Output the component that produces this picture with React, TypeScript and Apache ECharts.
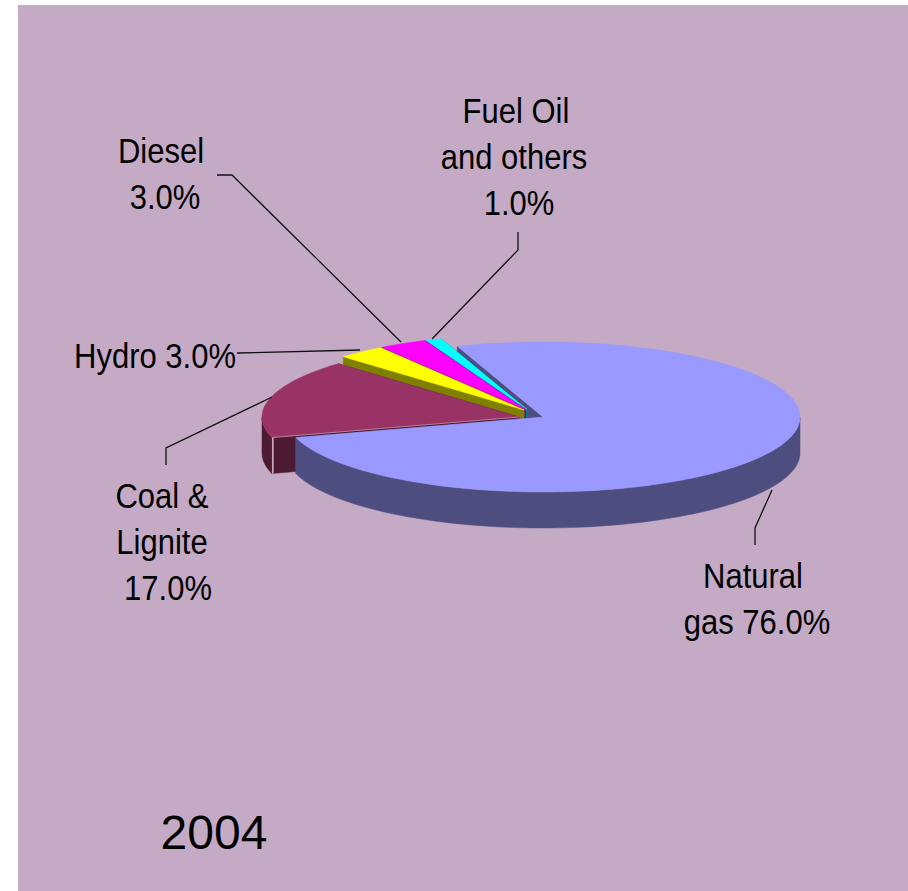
import React, { useEffect, useRef } from "react";
import * as echarts from "echarts";

const categories = ["Natural gas", "Coal & Lignite", "Hydro", "Diesel", "Fuel Oil and others"];
const shares = [76.0, 17.0, 3.0, 3.0, 1.0];
const yearLabel = "2004";

// Layout and styling (not data)
const W = 908;
const H = 891;
const BG = "#C4AAC4";
const FONT = "'Liberation Sans', Arial, sans-serif";
const faceColors = ["#9999FF", "#993366", "#FFFF00", "#FF00FF", "#00FFFF"];
const wallColors = ["#4D4D80", "#4D1A33", "#808000", "#800080", "#008080"];
const sliceCentres = [
  [543, 417],
  [519, 417],
  [524, 410],
  [525.5, 409.5],
  [527, 409.5],
];
const RX = 257;
const RY = 75;
const DEPTH = 36;
const START_DEG = -19.5;

const labelLines: [string, number, number][] = [
  ["Diesel", 161, 151],
  ["3.0%", 165, 197],
  ["Fuel Oil", 516, 111],
  ["and others", 514, 157],
  ["1.0%", 519, 203],
  ["Hydro 3.0%", 155, 356],
  ["Coal &", 162, 496],
  ["Lignite", 162, 542],
  ["17.0%", 168, 588],
  ["Natural", 753, 576],
  ["gas 76.0%", 757, 622],
];
const leaders: number[][][] = [
  [[217, 175], [232, 175], [401, 342]],
  [[518, 232], [518, 250], [432, 339]],
  [[237, 353], [360, 350]],
  [[166, 465], [166, 448], [272, 397]],
  [[755, 545], [755, 528], [772, 490]],
];

function renderSlice(params: any, api: any) {
  const i = params.dataIndex;
  const total = shares.reduce((a, b) => a + b, 0);
  const before = shares.slice(0, i).reduce((a, b) => a + b, 0);
  const value = api.value(0);
  const a0 = ((START_DEG + (before / total) * 360) * Math.PI) / 180;
  const a1 = ((START_DEG + ((before + value) / total) * 360) * Math.PI) / 180;
  const [cx, cy] = sliceCentres[i];
  const pt = (a: number) => [cx + RX * Math.sin(a), cy - RY * Math.cos(a)];
  const steps = Math.max(4, Math.ceil(((a1 - a0) * 180) / Math.PI / 2));
  const arc: number[][] = [];
  const front: number[][] = [];
  for (let k = 0; k <= steps; k++) {
    const a = a0 + ((a1 - a0) * k) / steps;
    arc.push(pt(a));
    if (Math.cos(a) <= 0) front.push(pt(a));
  }
  const z = i === 0 ? 5 : 5 - i;
  const wall = wallColors[i];
  const poly = (points: number[][], fill: string, z2: number) => ({
    type: "polygon",
    z2,
    silent: true,
    shape: { points },
    style: { fill, stroke: fill, lineWidth: 0.5 },
  });
  const extrude = (p: number[]) => [[cx, cy], p, [p[0], p[1] + DEPTH], [cx, cy + DEPTH]];
  const children: any[] = [
    poly(extrude(arc[0]), wall, i === 0 ? 0 : z),
    poly(extrude(arc[arc.length - 1]), wall, z),
  ];
  if (front.length > 1) {
    const low = front.map((p) => [p[0], p[1] + DEPTH]).reverse();
    children.push(poly([...front, ...low], wall, z));
  }
  children.push(poly([[cx, cy], ...arc], faceColors[i], z));
  if (i === 1) {
    const p = arc[0];
    children.push({
      type: "line",
      z2: z,
      silent: true,
      shape: { x1: p[0] + 1, y1: p[1], x2: p[0] + 1, y2: p[1] + DEPTH },
      style: { stroke: "#D8B8C8", lineWidth: 1.5 },
    });
    children.push({
      type: "line",
      z2: z,
      silent: true,
      shape: { x1: p[0], y1: p[1], x2: cx, y2: cy },
      style: { stroke: "#B87F98", lineWidth: 1 },
    });
  }
  return { type: "group", children };
}

export default function App() {
  const ref = useRef<HTMLDivElement>(null);
  useEffect(() => {
    document.body.style.margin = "0";
    const chart = echarts.init(ref.current!, undefined, { renderer: "svg" });
    chart.setOption({
      animation: false,
      backgroundColor: "#FFFFFF",
      graphic: [
        {
          type: "rect",
          z: -1,
          silent: true,
          shape: { x: 18, y: 5, width: W - 18, height: H - 5 },
          style: { fill: BG },
        },
        ...leaders.map((points) => ({
          type: "polyline",
          z: 10,
          silent: true,
          shape: { points },
          style: { stroke: "#111111", lineWidth: 1.3, fill: "none" },
        })),
        ...labelLines.map(([text, x, y]) => ({
          type: "text",
          z: 11,
          silent: true,
          x,
          y,
          scaleY: 1.12,
          style: {
            text,
            fill: "#000000",
            font: `31px ${FONT}`,
            textAlign: "center",
            textVerticalAlign: "middle",
          },
        })),
        {
          type: "text",
          z: 11,
          silent: true,
          x: 214,
          y: 832,
          style: {
            text: yearLabel,
            fill: "#000000",
            font: `48px ${FONT}`,
            textAlign: "center",
            textVerticalAlign: "middle",
          },
        },
      ],
      series: [
        {
          type: "custom",
          coordinateSystem: "none",
          silent: true,
          clip: false,
          renderItem: renderSlice,
          data: shares.map((v, i) => ({ name: categories[i], value: [v] })),
        },
      ],
    });
    return () => chart.dispose();
  }, []);
  return <div ref={ref} style={{ position: "absolute", left: 0, top: 0, width: W, height: H }} />;
}
